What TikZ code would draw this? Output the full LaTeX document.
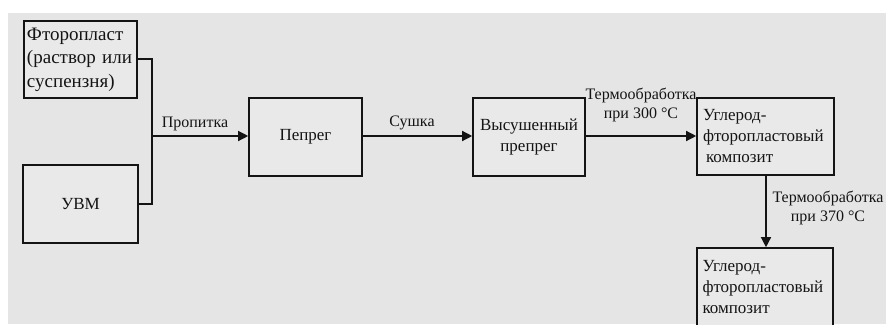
\documentclass[tikz,border=0pt]{standalone}
\usepackage{fontspec}
\setmainfont{Liberation Serif}
\usetikzlibrary{arrows.meta}
\definecolor{bg}{HTML}{E5E5E5}
\definecolor{boxfill}{HTML}{E9E9E9}
\definecolor{ink}{HTML}{141414}
\tikzset{
  box/.style={draw=ink, line width=1.6pt, fill=boxfill, inner sep=0pt,
    font=\fontsize{17}{21}\selectfont, text=ink},
  lbl/.style={font=\fontsize{16}{19}\selectfont, text=ink, inner sep=0pt, align=center},
  conn/.style={draw=ink, line width=1.3pt},
  arr/.style={conn, -{Triangle[length=10pt,width=10pt]}},
}
\begin{document}
\begin{tikzpicture}[x=1pt,y=-1pt]
\useasboundingbox (0,0) rectangle (886,324);
\clip (0,0) rectangle (886,324);
\fill[white] (0,0) rectangle (886,324);
\fill[bg] (8,13) rectangle (886,324);

\node[box, minimum width=113pt, minimum height=77pt, text width=107pt, align=left,
  font=\fontsize{19}{23.5}\selectfont] (f) at (80.5,59.5)
  {Фторопласт\\(раствор или\\суспензня)};
\node[box, minimum width=115pt, minimum height=78pt, align=center] (u) at (80.5,204) {УВМ};
\node[box, minimum width=113pt, minimum height=78pt, align=center] (p) at (305.5,137) {Пепрег};
\node[box, minimum width=112pt, minimum height=78pt, align=center] (v) at (529,137) {Высушенный\\препрег};
\node[box, minimum width=137pt, minimum height=77pt, text width=125pt, align=left] (c1) at (765.5,136.5)
  {Углерод-\\фторопластовый\\\hspace*{3pt}композит};
\node[box, minimum width=136pt, minimum height=78pt, text width=125pt, align=left] (c2) at (765,287)
  {Углерод-\\фторопластовый\\композит};

\coordinate (j) at (152,136);
\draw[conn] (f.east |- 0,59) -- (152,59) -- (152,204) -- (u.east |- 0,204);
\draw[arr] (j) -- (p.west |- j);
\node[lbl, anchor=south] (l1) at (195,131) {Пропитка};
\draw[arr] (p.east |- j) -- (v.west |- j);
\node[lbl, anchor=south] (l2) at (412,130) {Сушка};
\draw[arr] (v.east |- j) -- (c1.west |- j);
\node[lbl, anchor=south] (l3) at (641,122) {Термообработка\\при 300 °C};
\draw[arr] (c1.south -| 766,0) -- (c2.north -| 766,0);
\node[lbl] (l4) at (828,208) {Термообработка\\при 370 °C};
\end{tikzpicture}
\end{document}
